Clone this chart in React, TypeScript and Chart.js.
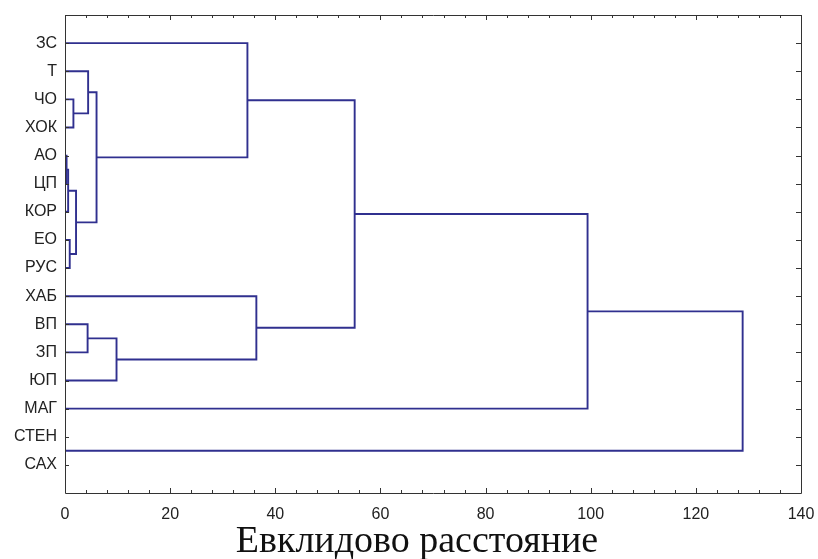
import React, { useEffect, useRef } from "react";
import { Chart, registerables } from "chart.js";

Chart.register(...registerables);

// Leaves of the dendrogram, top to bottom
const leafLabels = ["ЗС", "Т", "ЧО", "ХОК", "АО", "ЦП", "КОР", "ЕО", "РУС", "ХАБ", "ВП", "ЗП", "ЮП", "МАГ", "СТЕН", "САХ"];

// Linkage: cluster ids 0..15 are leaves, merge k creates cluster id 16 + k
const mergeLeft = [14, 4, 17, 7, 2, 18, 10, 1, 23, 22, 0, 9, 26, 28, 29];
const mergeRight = [15, 5, 6, 8, 3, 19, 11, 20, 21, 12, 24, 25, 27, 13, 16];
const mergeHeight = [0, 0.3, 0.6, 0.9, 1.6, 2.1, 4.3, 4.4, 6.0, 9.8, 34.7, 36.4, 55.1, 99.4, 128.9];

const xTickValues = [0, 20, 40, 60, 80, 100, 120, 140];
const axisTitle = "Евклидово расстояние";

const LINE_COLOR = "#30308f";
const FRAME_COLOR = "#333333";
const SANS = "'Liberation Sans', Arial, sans-serif";

function buildLinks() {
  const pos: number[] = leafLabels.map((_, i) => i);
  const hgt: number[] = leafLabels.map(() => 0);
  const links: { x: number; y: number }[][] = [];
  mergeLeft.forEach((a, k) => {
    const b = mergeRight[k];
    const h = mergeHeight[k];
    links.push([
      { x: hgt[a], y: pos[a] },
      { x: h, y: pos[a] },
      { x: h, y: pos[b] },
      { x: hgt[b], y: pos[b] },
    ]);
    pos.push((pos[a] + pos[b]) / 2);
    hgt.push(h);
  });
  return links;
}

const framePlugin = {
  id: "frameTicks",
  afterDraw(chart: any) {
    const { ctx, chartArea } = chart;
    const xs = chart.scales.x;
    const ys = chart.scales.y;
    const { left, right, top, bottom } = chartArea;
    ctx.save();
    ctx.strokeStyle = FRAME_COLOR;
    ctx.lineWidth = 1;
    ctx.beginPath();
    ctx.rect(Math.round(left) + 0.5, Math.round(top) + 0.5, Math.round(right - left), Math.round(bottom - top));
    ctx.stroke();
    ctx.beginPath();
    leafLabels.forEach((_, i) => {
      const y = Math.round(ys.getPixelForValue(i)) + 0.5;
      ctx.moveTo(left, y);
      ctx.lineTo(left + 4, y);
      ctx.moveTo(right - 5, y);
      ctx.lineTo(right, y);
    });
    for (let v = 0; v <= 140; v += 4) {
      const x = Math.round(xs.getPixelForValue(v)) + 0.5;
      const len = v % 20 === 0 ? 5 : 3;
      ctx.moveTo(x, bottom);
      ctx.lineTo(x, bottom - len);
      ctx.moveTo(x, top);
      ctx.lineTo(x, top + len);
    }
    ctx.stroke();
    ctx.fillStyle = "#111111";
    ctx.font = "38px 'Liberation Serif', 'Times New Roman', serif";
    ctx.textAlign = "center";
    ctx.textBaseline = "alphabetic";
    ctx.fillText(axisTitle, 417, 552);
    ctx.restore();
  },
};

export default function App() {
  const ref = useRef<HTMLCanvasElement>(null);
  useEffect(() => {
    document.body.style.margin = "0";
    const links = buildLinks();
    const chart = new Chart(ref.current!, {
      type: "scatter",
      data: {
        datasets: links.map((pts) => ({
          data: pts,
          showLine: true,
          pointRadius: 0,
          borderColor: LINE_COLOR,
          borderWidth: 1.9,
          fill: false,
        })),
      },
      options: {
        responsive: false,
        animation: false,
        layout: { padding: { top: 15, right: 17, left: 0, bottom: 0 } },
        plugins: { legend: { display: false }, tooltip: { enabled: false }, title: { display: false } },
        scales: {
          x: {
            type: "linear",
            min: 0,
            max: 140,
            afterFit: (s: any) => {
              s.height = 66;
              s.paddingLeft = 0;
              s.paddingRight = 0;
            },
            afterBuildTicks: (s: any) => {
              s.ticks = xTickValues.map((v) => ({ value: v }));
            },
            grid: { display: false, drawTicks: false },
            border: { display: false },
            ticks: {
              padding: 12,
              color: "#222222",
              font: { family: SANS, size: 16 },
              maxRotation: 0,
              autoSkip: false,
            },
          },
          y: {
            type: "linear",
            reverse: true,
            min: -1,
            max: 16,
            afterFit: (s: any) => {
              s.width = 65;
              s.paddingTop = 0;
              s.paddingBottom = 0;
            },
            afterBuildTicks: (s: any) => {
              s.ticks = leafLabels.map((_, i) => ({ value: i }));
            },
            grid: { display: false, drawTicks: false },
            border: { display: false },
            ticks: {
              padding: 8,
              color: "#222222",
              font: { family: SANS, size: 16 },
              autoSkip: false,
              callback: (v: any) => leafLabels[v as number] ?? "",
            },
          },
        },
      },
      plugins: [framePlugin],
    });
    return () => chart.destroy();
  }, []);
  return (
    <div style={{ width: 818, height: 559, background: "#ffffff" }}>
      <canvas ref={ref} width={818} height={559} />
    </div>
  );
}
